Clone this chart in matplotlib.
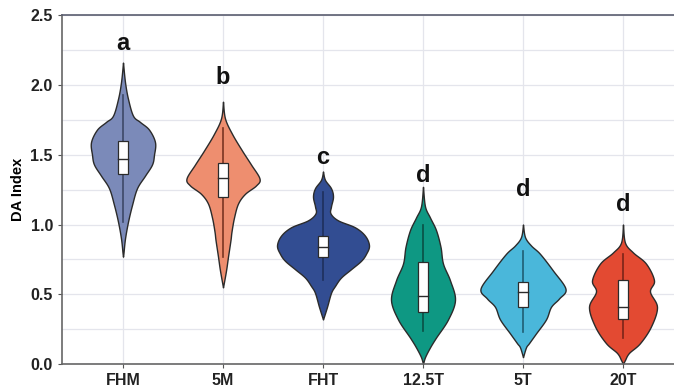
import numpy as np
import matplotlib.pyplot as plt

# groups and colours
groups = ["FHM", "5M", "FHT", "12.5T", "5T", "20T"]
colors = ["#7b8ab9", "#ee8e6f", "#324d92", "#0e9883", "#4ab7da", "#e34a32"]
line_colors = ["#3d4868", "#7a3422", "#1e2f5c", "#0a4f45", "#1f5d73", "#7a2418"]
letters = ["a", "b", "c", "d", "d", "d"]
letter_y = [2.30, 2.05, 1.48, 1.35, 1.25, 1.14]

# violin outlines: DA level and half width (category units)
fhm_v = [2.16, 2.02, 1.90, 1.78, 1.735, 1.68, 1.59, 1.50, 1.43, 1.35, 1.26, 1.14, 1.02, 0.90, 0.80, 0.77]
fhm_w = [0.0, 0.02, 0.05, 0.10, 0.17, 0.26, 0.32, 0.31, 0.29, 0.22, 0.14, 0.09, 0.05, 0.02, 0.005, 0.0]
m5_v = [1.88, 1.76, 1.65, 1.53, 1.43, 1.33, 1.28, 1.22, 1.15, 1.05, 0.95, 0.89, 0.77, 0.67, 0.55]
m5_w = [0.0, 0.02, 0.09, 0.19, 0.28, 0.365, 0.33, 0.22, 0.15, 0.11, 0.085, 0.075, 0.05, 0.03, 0.0]
fht_v = [1.38, 1.32, 1.26, 1.20, 1.13, 1.08, 1.03, 0.98, 0.92, 0.85, 0.79, 0.74, 0.68, 0.62, 0.56, 0.51, 0.41, 0.32]
fht_w = [0.0, 0.02, 0.08, 0.10, 0.08, 0.075, 0.15, 0.32, 0.42, 0.46, 0.43, 0.38, 0.28, 0.18, 0.12, 0.08, 0.04, 0.0]
t125_v = [1.27, 1.13, 1.05, 0.96, 0.84, 0.72, 0.60, 0.46, 0.32, 0.19, 0.12, 0.05, 0.0]
t125_w = [0.0, 0.02, 0.07, 0.13, 0.175, 0.20, 0.27, 0.32, 0.25, 0.13, 0.07, 0.02, 0.0]
t5_v = [1.0, 0.91, 0.85, 0.79, 0.67, 0.54, 0.47, 0.41, 0.32, 0.22, 0.15, 0.12, 0.05]
t5_w = [0.0, 0.02, 0.08, 0.17, 0.30, 0.425, 0.36, 0.28, 0.23, 0.13, 0.06, 0.03, 0.0]
t20_v = [1.0, 0.87, 0.80, 0.72, 0.60, 0.52, 0.41, 0.27, 0.15, 0.08, 0.03, 0.0]
t20_w = [0.0, 0.02, 0.10, 0.23, 0.31, 0.27, 0.34, 0.28, 0.17, 0.06, 0.02, 0.0]

levels = [fhm_v, m5_v, fht_v, t125_v, t5_v, t20_v]
widths = [fhm_w, m5_w, fht_w, t125_w, t5_w, t20_w]

# box summaries
q1 = [1.36, 1.20, 0.77, 0.37, 0.41, 0.32]
median = [1.47, 1.33, 0.84, 0.49, 0.52, 0.41]
q3 = [1.60, 1.44, 0.92, 0.73, 0.59, 0.60]
whisk_lo = [1.02, 0.77, 0.60, 0.24, 0.23, 0.19]
whisk_hi = [1.93, 1.69, 1.23, 1.00, 0.81, 0.79]


def smooth_outline(v, w, n=12):
    # catmull-rom through the read points so the outline is not jagged
    pts = np.column_stack([v, w])
    pts = np.vstack([pts[0], pts, pts[-1]])
    out = []
    for k in range(1, len(pts) - 2):
        p0, p1, p2, p3 = pts[k - 1], pts[k], pts[k + 1], pts[k + 2]
        t = np.linspace(0, 1, n, endpoint=False)[:, None]
        seg = 0.5 * (2 * p1 + (-p0 + p2) * t + (2 * p0 - 5 * p1 + 4 * p2 - p3) * t ** 2
                     + (-p0 + 3 * p1 - 3 * p2 + p3) * t ** 3)
        out.append(seg)
    out.append(pts[-2][None, :])
    out = np.vstack(out)
    return out[:, 0], np.clip(out[:, 1], 0, None)


plt.rcParams['font.family'] = ['Liberation Sans', 'DejaVu Sans']

fig = plt.figure(figsize=(6.74, 3.89), dpi=100)
ax = fig.add_axes([0.092, 0.064, 0.908, 0.897])

for i in range(len(groups)):
    v, w = smooth_outline(levels[i], widths[i])
    ax.fill_betweenx(v, i - w, i + w, facecolor=colors[i], edgecolor="#2b2b2b",
                     linewidth=1.0, zorder=2)
    ax.plot([i, i], [whisk_lo[i], whisk_hi[i]], color=line_colors[i], lw=1.2, zorder=3)
    ax.bar(i, q3[i] - q1[i], bottom=q1[i], width=0.1, color="white",
           edgecolor="#2b2b2b", linewidth=0.9, zorder=4)
    ax.plot([i - 0.05, i + 0.05], [median[i], median[i]], color="#2b2b2b", lw=1.0, zorder=5)
    ax.text(i, letter_y[i], letters[i], ha="center", va="center",
            fontsize=17, fontweight="bold", color="#111111")

ax.set_xlim(-0.61, 5.51)
ax.set_ylim(0, 2.5)
ax.set_xticks(range(len(groups)))
ax.set_xticklabels(groups)
ax.set_yticks([0, 0.5, 1.0, 1.5, 2.0, 2.5])
ax.set_yticks(np.arange(0.25, 2.5, 0.5), minor=True)
ax.grid(True, which="both", color="#e4e5ec", lw=0.9, zorder=0)
ax.set_axisbelow(True)
ax.tick_params(axis="both", which="major", labelsize=11.5, length=3, color="#555555")
ax.tick_params(axis="y", which="minor", length=0)
for lab in ax.get_xticklabels() + ax.get_yticklabels():
    lab.set_fontweight("bold")
    lab.set_color("#222222")
ax.set_ylabel("DA Index", fontsize=10.5, fontweight="bold", labelpad=4)
ax.spines["right"].set_visible(False)
ax.spines["top"].set_color("#5a5e70")
ax.spines["left"].set_color("#666666")
ax.spines["bottom"].set_color("#666666")
for s in ["top", "left", "bottom"]:
    ax.spines[s].set_linewidth(1.2)

fig.savefig("out.png", dpi=100)
